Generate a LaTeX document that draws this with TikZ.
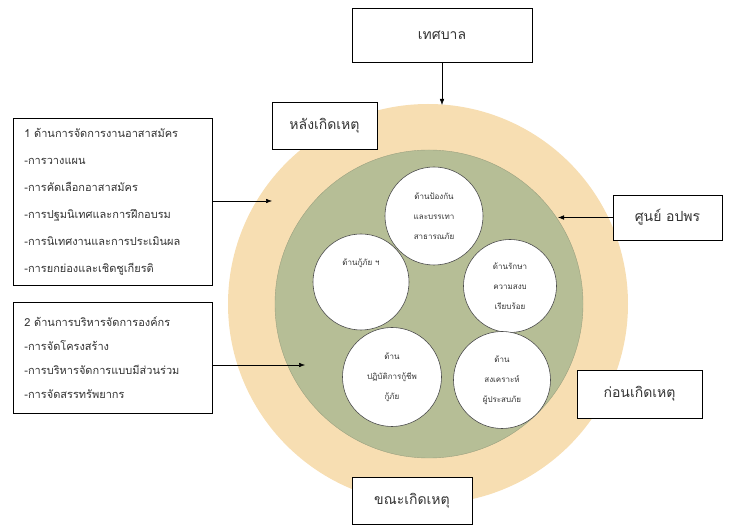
\documentclass[tikz,border=0pt]{standalone}
\usepackage{fontspec}
\setmainfont[Script=Thai]{Loma}
\usetikzlibrary{arrows.meta}
\definecolor{ringtan}{RGB}{247,222,178}
\definecolor{ringgreen}{RGB}{182,190,150}

\begin{document}
\begin{tikzpicture}[x=1pt,y=-1pt,
    phasebox/.style={draw,fill=white,line width=0.7pt,inner sep=0pt,text=black!80,
      font=\fontsize{14}{16}\selectfont},
    listbox/.style={draw,fill=white,line width=0.8pt,align=left,text=black!80,
      inner xsep=11pt,inner ysep=0pt,text width=177pt,anchor=north west},
    duty/.style={circle,draw=black!70,fill=white,line width=0.6pt,inner sep=0pt,
      align=center,text=black!80,font=\fontsize{8}{20}\selectfont},
    toarrow/.style={-{Latex[length=6pt,width=4.5pt]},line width=0.5pt}]
      \useasboundingbox (0,0) rectangle (729,526);
      \fill[ringtan] (428,304) circle[radius=200];
      \filldraw[fill=ringgreen,draw=ringgreen!85!black,line width=0.4pt]
        (429,304) circle[radius=154];
      \node[duty,minimum size=98pt] (prevent) at (434,216)
        {ด้านป้องกัน\\และบรรเทา\\สาธารณภัย};
      \node[duty,minimum size=96pt] (rescue) at (361,282)
        {ด้านกู้ภัย ฯ\\\mbox{}\\\mbox{}};
      \node[duty,minimum size=93pt] (order) at (510,286)
        {ด้านรักษา\\ความสงบ\\เรียบร้อย};
      \node[duty,minimum size=99pt] (operate) at (392,377)
        {ด้าน\\ปฏิบัติการกู้ชีพ\\กู้ภัย};
      \node[duty,minimum size=97pt] (relief) at (502,380)
        {ด้าน\\สงเคราะห์\\ผู้ประสบภัย};
      \node[phasebox,minimum width=180pt,minimum height=54pt] (tesaban) at (442,35) {เทศบาล};
      \node[phasebox,minimum width=105pt,minimum height=47pt] (afterbox) at (324.5,125.5) {หลังเกิดเหตุ};
      \node[phasebox,minimum width=109pt,minimum height=45pt] (centerbox) at (667.5,217.5) {ศูนย์ อปพร};
      \node[phasebox,minimum width=125pt,minimum height=48pt] (beforebox) at (639.5,394) {ก่อนเกิดเหตุ};
      \node[phasebox,minimum width=120pt,minimum height=47pt] (duringbox) at (412,500.5) {ขณะเกิดเหตุ};
      \node[listbox,minimum height=167pt,font=\fontsize{11}{27}\selectfont] (volbox) at (13,118)
      {1 ด้านการจัดการงานอาสาสมัคร\\
        -การวางแผน\\
        -การคัดเลือกอาสาสมัคร\\
        -การปฐมนิเทศและการฝึกอบรม\\
        -การนิเทศงานและการประเมินผล\\
        -การยกย่องและเชิดชูเกียรติ};
      \node[listbox,minimum height=111pt,font=\fontsize{11}{24}\selectfont] (orgbox) at (13,302)
      {2 ด้านการบริหารจัดการองค์กร\\
        -การจัดโครงสร้าง\\
        -การบริหารจัดการแบบมีส่วนร่วม\\
        -การจัดสรรทรัพยากร};
      \coordinate (tesabantip) at (442,105);
      \coordinate (voltip) at (272,201);
      \coordinate (orgtip) at (305,365);
      \coordinate (centertip) at (558,217.5);
      \draw[toarrow] (tesaban) -- (tesabantip);
      \draw[toarrow] (volbox.east |- voltip) -- (voltip);
      \draw[toarrow] (orgbox.east |- orgtip) -- (orgtip);
      \draw[toarrow] (centerbox) -- (centertip);
    \end{tikzpicture}
\end{document}
